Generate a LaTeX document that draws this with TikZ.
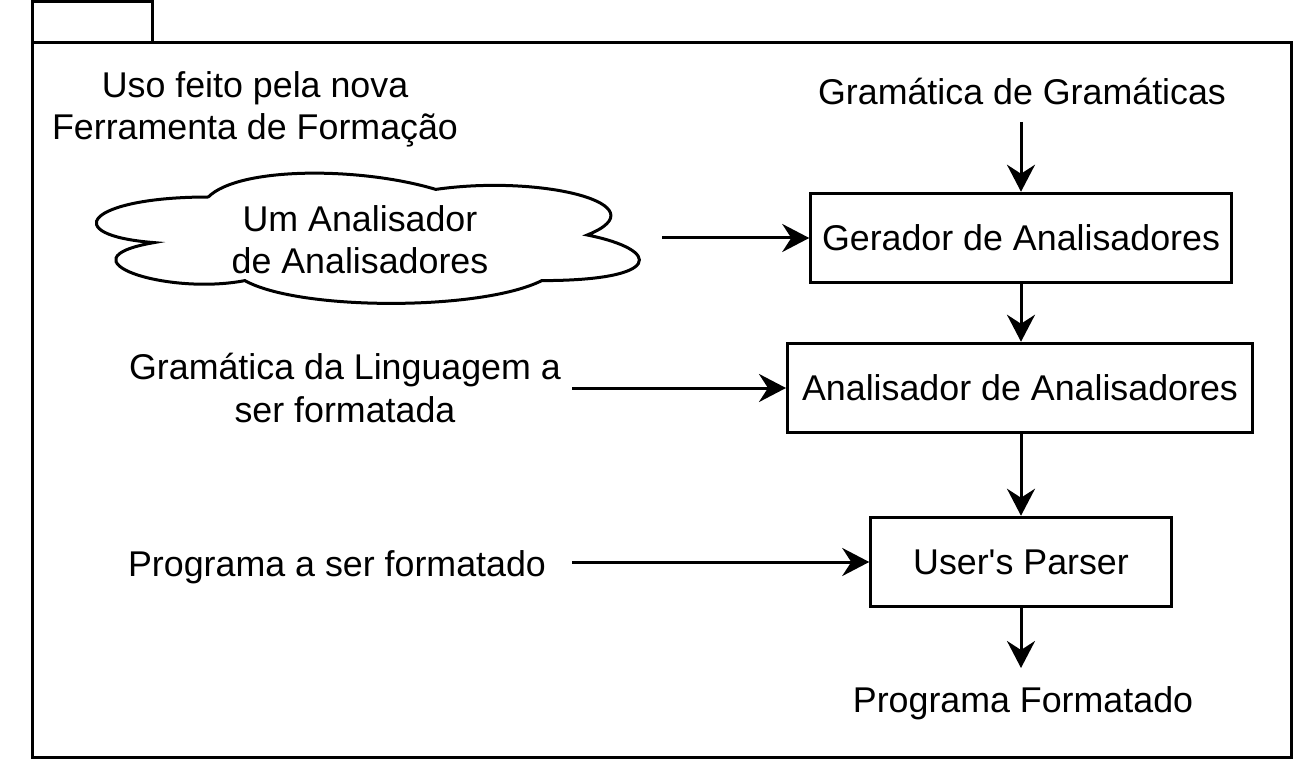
\documentclass[tikz,border=0pt]{standalone}
\usepackage{fontspec}
\setmainfont{Liberation Sans}[Ligatures=TeXOff]
\usetikzlibrary{arrows.meta}
\newcommand\dfont{\fontsize{35.8}{42.5}\selectfont}
\begin{document}
\begin{tikzpicture}[x=1pt,y=-1pt,line width=3pt,
  box/.style={draw,rectangle,inner sep=0pt,minimum height=89.5pt,font=\dfont},
  lbl/.style={inner sep=0pt,align=center,font=\dfont},
  arr/.style={-{Stealth[length=27pt,width=28pt,inset=9pt]}}]
\useasboundingbox (0,0) rectangle (1293,759);
% package frame
\draw (32,2) rectangle (152,43);
\draw (32,43) rectangle (1291,757);
% cloud
\begin{scope}[shift={(57,159)},xscale=606,yscale=152]
\draw[line width=3pt] (0.25,0.25)
  .. controls (0.05,0.25) and (0,0.5) .. (0.16,0.55)
  .. controls (0,0.66) and (0.18,0.9) .. (0.31,0.8)
  .. controls (0.4,1) and (0.7,1) .. (0.8,0.8)
  .. controls (1,0.8) and (1,0.6) .. (0.875,0.5)
  .. controls (1,0.3) and (0.8,0.1) .. (0.625,0.2)
  .. controls (0.5,0.05) and (0.3,0.05) .. cycle;
\end{scope}
\node[lbl,anchor=base] (cloudtxt) at (360,274) {Um Analisador\\de Analisadores};
% texts
\node[lbl,anchor=base] (uso) at (255,140) {Uso feito pela nova\\Ferramenta de Formação};
\node[lbl,anchor=base] (gg) at (1022,105) {Gramática de Gramáticas};
\node[lbl,anchor=base] (gl) at (345,422) {Gramática da Linguagem a\\ser formatada};
\node[lbl,anchor=base] (pa) at (337,576) {Programa a ser formatado};
\node[lbl,anchor=base] (pf) at (1023,712) {Programa Formatado};
% boxes
\node[box,minimum width=420.5pt] (ger) at (1021,238) {Gerador de Analisadores};
\node[box,minimum width=465pt] (ana) at (1020,388) {Analisador de Analisadores};
\node[box,minimum width=300.5pt] (usr) at (1021,562) {User's Parser};
% connector ends
\coordinate (ggout) at (1021,122);
\coordinate (cloudout) at (662,238);
\coordinate (glout) at (572,388);
\coordinate (paout) at (572,562);
\coordinate (pfin) at (1021,668);
% connectors
\draw[arr] (ggout) -- (ger.north);
\draw[arr] (ger.south) -- (ger.south |- ana.north);
\draw[arr] (ger.south |- ana.south) -- (usr.north);
\draw[arr] (usr.south) -- (pfin);
\draw[arr] (cloudout) -- (ger.west);
\draw[arr] (glout) -- (ana.west);
\draw[arr] (paout) -- (usr.west);
\end{tikzpicture}
\end{document}
